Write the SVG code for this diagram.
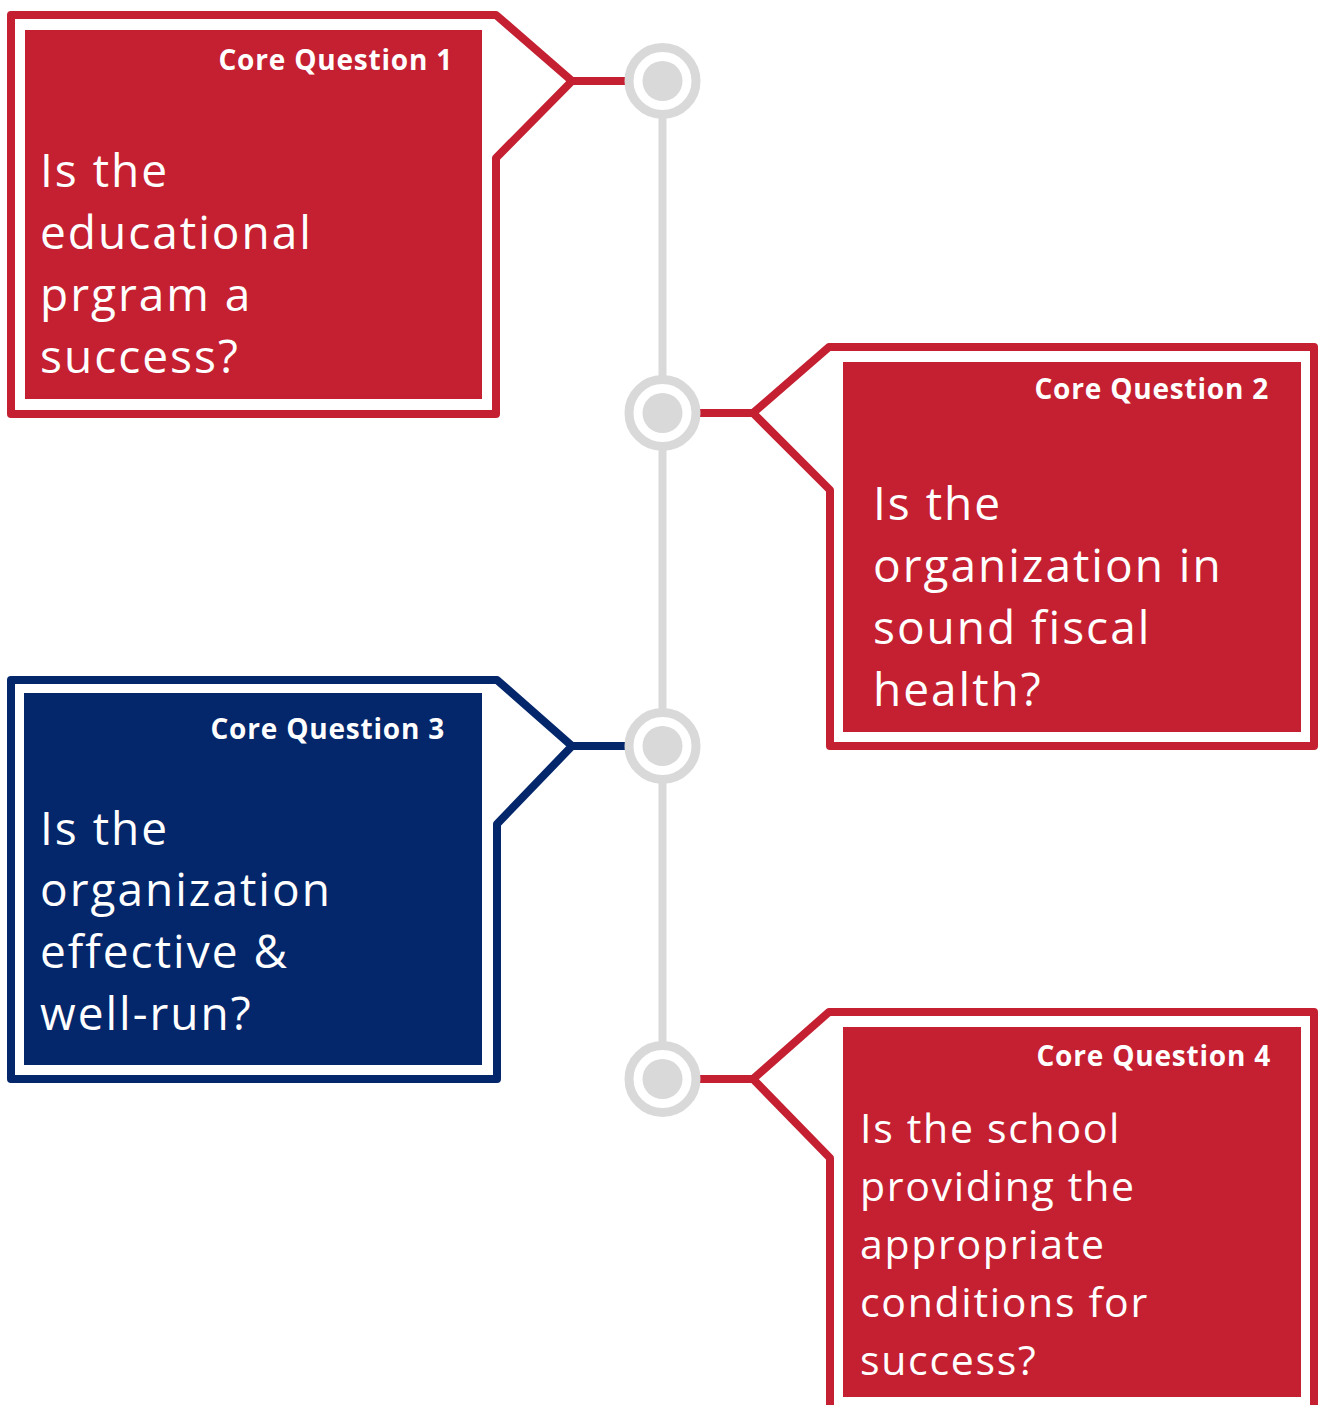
<svg xmlns="http://www.w3.org/2000/svg" width="1319" height="1405" viewBox="0 0 1319 1405">
  <style>
    .frame { fill: none; stroke-width: 8; stroke-linejoin: round; }
    .red { stroke: #C42032; }
    .blue { stroke: #04266B; }
    .fill-red { fill: #C42032; }
    .fill-blue { fill: #04266B; }
    .title { font-family: "Open Sans", "Liberation Sans", sans-serif; font-weight: 700; font-size: 28px; letter-spacing: 0.8px; fill: #FFFFFF; text-anchor: end; }
    .body { font-family: "Open Sans", "Liberation Sans", sans-serif; font-weight: 400; fill: #FFFFFF; }
    .lg { font-size: 46px; letter-spacing: 2px; }
    .sm { font-size: 41px; letter-spacing: 1.7px; }
    .link { stroke-width: 8; fill: none; }
    .rail { stroke: #D9D9D9; stroke-width: 8; }
    .ring { fill: #FFFFFF; stroke: #D9D9D9; stroke-width: 9; }
    .dot { fill: #D9D9D9; }
  </style>

  <!-- timeline rail and short links to each card -->
  <g id="connectors">
    <line class="rail" x1="662.5" y1="81" x2="662.5" y2="1079"/>
    <line class="link red" x1="572" y1="81" x2="630" y2="81"/>
    <line class="link red" x1="695" y1="413" x2="753" y2="413"/>
    <line class="link blue" x1="572" y1="746" x2="630" y2="746"/>
    <line class="link red" x1="695" y1="1079" x2="753" y2="1079"/>
  </g>

  <!-- timeline markers -->
  <g id="markers">
    <g id="marker-1"><circle class="ring" cx="662.5" cy="81" r="33.5"/><circle class="dot" cx="662.5" cy="81" r="20"/></g>
    <g id="marker-2"><circle class="ring" cx="662.5" cy="413" r="33.5"/><circle class="dot" cx="662.5" cy="413" r="20"/></g>
    <g id="marker-3"><circle class="ring" cx="662.5" cy="746" r="33.5"/><circle class="dot" cx="662.5" cy="746" r="20"/></g>
    <g id="marker-4"><circle class="ring" cx="662.5" cy="1079" r="33.5"/><circle class="dot" cx="662.5" cy="1079" r="20"/></g>
  </g>

  <!-- Core Question 1 -->
  <g id="card-1">
    <path class="frame red" d="M11 15 H496 L572 81 L496 158 V414 H11 Z"/>
    <rect class="fill-red" x="25" y="30" width="457" height="369"/>
    <text class="title" x="453" y="70">Core Question 1</text>
    <text class="body lg">
      <tspan x="40" y="187">Is the</tspan>
      <tspan x="40" y="249">educational</tspan>
      <tspan x="40" y="311">prgram a</tspan>
      <tspan x="40" y="373">success?</tspan>
    </text>
  </g>

  <!-- Core Question 2 -->
  <g id="card-2">
    <path class="frame red" d="M753 413 L829 347 H1314 V746 H830 V490 Z"/>
    <rect class="fill-red" x="843" y="362" width="458" height="370"/>
    <text class="title" x="1269" y="399">Core Question 2</text>
    <text class="body lg">
      <tspan x="873" y="520">Is the</tspan>
      <tspan x="873" y="582">organization in</tspan>
      <tspan x="873" y="644">sound fiscal</tspan>
      <tspan x="873" y="706">health?</tspan>
    </text>
  </g>

  <!-- Core Question 3 -->
  <g id="card-3">
    <path class="frame blue" d="M11 680 H497 L572 746 L497 824 V1079 H11 Z"/>
    <rect class="fill-blue" x="24" y="693" width="458" height="372"/>
    <text class="title" x="445" y="739">Core Question 3</text>
    <text class="body lg">
      <tspan x="40" y="845">Is the</tspan>
      <tspan x="40" y="906">organization</tspan>
      <tspan x="40" y="968">effective &amp;</tspan>
      <tspan x="40" y="1030">well-run?</tspan>
    </text>
  </g>

  <!-- Core Question 4 -->
  <g id="card-4">
    <path class="frame red" d="M753 1079 L829 1012 H1314 V1420 H830 V1158 Z"/>
    <rect class="fill-red" x="843" y="1027" width="458" height="370"/>
    <text class="title" x="1271" y="1066">Core Question 4</text>
    <text class="body sm">
      <tspan x="860" y="1143">Is the school</tspan>
      <tspan x="860" y="1201">providing the</tspan>
      <tspan x="860" y="1259">appropriate</tspan>
      <tspan x="860" y="1317">conditions for</tspan>
      <tspan x="860" y="1375">success?</tspan>
    </text>
  </g>
</svg>
